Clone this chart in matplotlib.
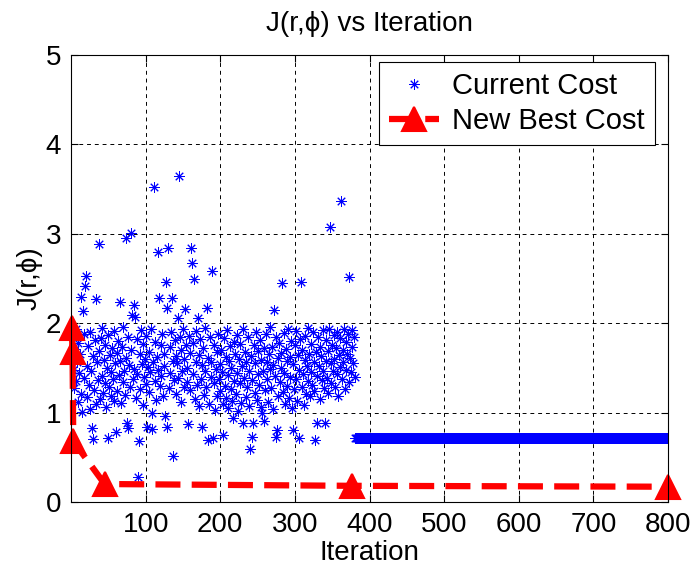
import numpy as np
import matplotlib
matplotlib.use("Agg")
import matplotlib.pyplot as plt

plt.rcParams['font.family'] = ['Liberation Sans Narrow', 'Liberation Sans', 'DejaVu Sans']

# cost sampled during the search phase, one value per iteration (1..380)
cost_search = [
    1.62, 1.48, 1.85, 1.27, 1.71, 1.93, 1.35, 1.56, 1.12, 1.78, 1.44, 1.66, 2.29, 1.21, 1.01, 2.14, 1.88, 1.39, 2.41, 2.53,
    1.52, 1.17, 1.74, 1.31, 1.04, 1.90, 1.46, 0.83, 0.70, 1.63, 1.25, 1.81, 1.09, 2.27, 1.57, 1.36, 2.89, 1.69, 1.15, 1.83,
    1.41, 1.95, 1.22, 1.59, 1.33, 1.76, 1.06, 1.50, 1.87, 0.72, 1.28, 1.64, 1.19, 1.45, 1.72, 1.38, 1.91, 1.13, 1.55, 0.78,
    1.67, 1.24, 1.80, 1.42, 1.58, 2.24, 1.11, 1.73, 1.34, 1.96, 1.47, 1.20, 2.95, 1.61, 0.88, 1.84, 0.83, 1.53, 1.29, 3.01,
    1.70, 2.09, 1.37, 2.20, 1.49, 2.07, 1.16, 1.82, 1.43, 0.28, 0.68, 1.65, 1.26, 1.92, 1.54, 1.08, 1.77, 1.40, 1.60, 1.32,
    1.86, 0.84, 1.51, 1.23, 1.68, 1.45, 1.94, 0.82, 0.99, 1.57, 3.52, 1.35, 1.79, 1.14, 1.62, 1.48, 2.80, 2.28, 1.30, 1.75,
    1.41, 1.88, 1.18, 1.66, 1.52, 0.96, 2.46, 2.17, 0.84, 2.84, 1.27, 1.73, 1.44, 1.90, 2.28, 1.58, 0.51, 1.36, 1.81, 1.63,
    1.21, 1.55, 2.06, 1.39, 3.65, 1.84, 1.12, 1.70, 1.47, 1.93, 1.29, 1.60, 2.16, 1.76, 1.34, 1.50, 0.87, 1.86, 1.25, 1.67,
    2.84, 2.67, 1.43, 1.78, 2.49, 1.15, 1.56, 1.91, 1.31, 2.06, 1.64, 1.07, 1.82, 1.38, 1.53, 0.84, 1.72, 1.20, 1.95, 1.46,
    1.28, 2.17, 0.69, 1.61, 1.10, 1.85, 1.40, 1.57, 2.58, 0.72, 1.33, 1.76, 1.03, 1.49, 1.68, 1.19, 1.88, 1.37, 1.54, 1.24,
    1.70, 1.45, 1.09, 0.75, 1.83, 1.30, 1.62, 1.16, 1.92, 1.42, 1.05, 1.58, 1.74, 1.26, 1.50, 1.13, 0.94, 1.79, 1.35, 1.65,
    1.21, 1.87, 1.44, 1.02, 1.60, 1.33, 1.77, 1.11, 1.52, 1.94, 0.88, 1.39, 1.68, 1.17, 1.56, 1.28, 1.84, 1.07, 1.47, 0.59,
    1.63, 0.73, 1.36, 0.88, 1.75, 1.22, 1.55, 1.90, 1.14, 1.43, 1.69, 1.31, 1.81, 1.06, 1.59, 1.00, 1.46, 0.90, 1.72, 1.25,
    1.88, 1.38, 1.57, 1.12, 1.66, 1.49, 1.96, 1.27, 1.73, 1.04, 1.53, 2.15, 1.41, 1.85, 0.73, 0.81, 1.61, 1.19, 1.78, 1.34,
    1.50, 1.67, 2.45, 1.23, 1.89, 1.44, 1.09, 1.71, 1.58, 1.30, 1.93, 1.16, 1.62, 1.40, 1.80, 1.05, 0.81, 1.54, 1.26, 1.75,
    1.37, 1.91, 1.13, 1.64, 1.48, 0.72, 1.82, 2.46, 1.28, 1.70, 1.43, 1.08, 1.59, 1.86, 1.21, 1.52, 1.95, 1.35, 1.66, 1.18,
    1.77, 1.45, 1.31, 1.90, 1.56, 1.24, 0.69, 1.68, 1.41, 0.88, 1.84, 1.52, 1.15, 1.73, 1.63, 1.36, 1.92, 1.47, 1.27, 0.88,
    1.58, 1.81, 1.39, 1.69, 1.22, 1.94, 3.08, 1.55, 1.33, 1.76, 1.46, 1.87, 1.60, 1.29, 1.72, 1.43, 1.90, 1.18, 1.64, 1.51,
    1.83, 3.37, 1.37, 1.70, 1.57, 1.93, 1.26, 1.79, 1.48, 1.65, 1.88, 1.34, 2.52, 1.61, 1.45, 1.92, 1.73, 1.55, 1.85, 1.40,
]
# after iteration 380 the cost settles at one value
n_search = len(cost_search)
n_total = 800
cost_settled = 0.72

# iterations where a new best cost was found
best_iter = [1, 2, 3, 45, 377, 800]
best_cost = [1.95, 1.68, 0.68, 0.20, 0.18, 0.17]

iters = np.arange(1, n_total + 1)
cost = np.array(cost_search + [cost_settled] * (n_total - n_search))

fig = plt.figure(figsize=(6.93, 5.71), dpi=100)
ax = fig.add_axes([0.1025, 0.121, 0.8615, 0.7827])

ax.plot(iters, cost, linestyle='none', marker=(8, 2, 0), markersize=7.5,
        markeredgewidth=0.7, color='#0000ff', label='Current Cost')
ax.plot(best_iter, best_cost, color='#ff0000', linestyle='--', linewidth=4.5,
        dashes=(4, 1.8), marker='^', markersize=17, markeredgewidth=1.5,
        label='New Best Cost', clip_on=False)

ax.set_xlim(0, 800)
ax.set_ylim(0, 5)
ax.set_xticks([100, 200, 300, 400, 500, 600, 700, 800])
ax.set_yticks([0, 1, 2, 3, 4, 5])
ax.tick_params(direction='in', top=True, right=True, labelsize=20, length=5)
ax.tick_params(axis='x', pad=7)
ax.tick_params(axis='y', pad=7)
ax.grid(True, color='black', linestyle=(0, (4, 4)), linewidth=0.7)
for s in ax.spines.values():
    s.set_linewidth(0.8)

ax.set_title('J(r,ϕ) vs Iteration', fontsize=20, pad=17)
ax.set_xlabel('Iteration', fontsize=20, labelpad=2)
ax.set_ylabel('J(r,ϕ)', fontsize=20, labelpad=2)

leg = ax.legend(loc='upper right', fontsize=21, fancybox=False, framealpha=1,
                edgecolor='black', borderpad=0.35, handlelength=1.7,
                handletextpad=0.45, labelspacing=0.25, borderaxespad=0,
                bbox_to_anchor=(0.978, 0.985))
leg.get_frame().set_linewidth(0.8)

fig.savefig('out.png', dpi=100)
